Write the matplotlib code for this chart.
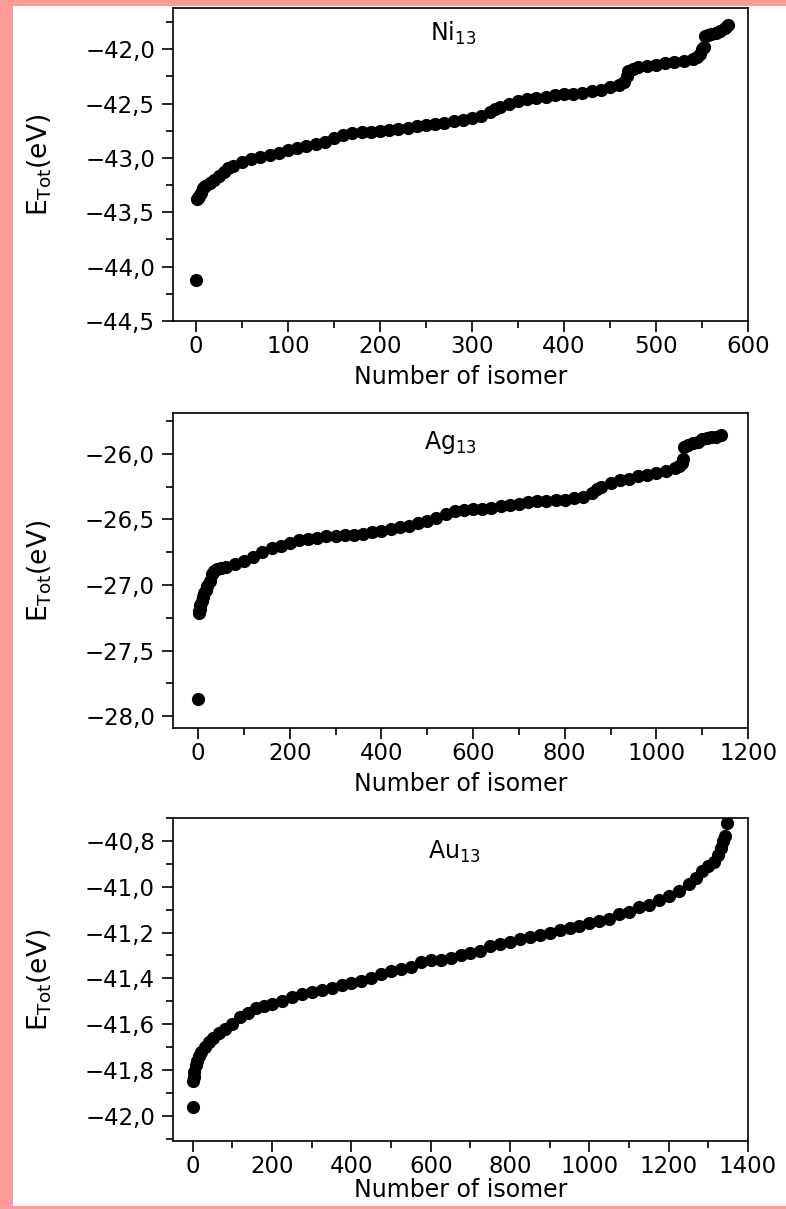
import matplotlib
matplotlib.use("Agg")
import matplotlib.pyplot as plt
from matplotlib.patches import Rectangle
from matplotlib.ticker import MultipleLocator, FuncFormatter

# ---------------- data ----------------
ni_n = [0, 1, 2, 3, 5, 8, 10, 15, 20, 25, 30, 35, 40, 50, 60, 70, 80, 90, 100,
        110, 120, 130, 140, 150, 160, 170, 180, 190, 200, 210, 220, 230, 240,
        250, 260, 270, 280, 290, 300, 310, 320, 325, 330, 340, 350, 360, 370,
        380, 390, 400, 410, 420, 430, 440, 450, 460, 465, 468, 470, 475, 480,
        490, 500, 510, 520, 530, 540, 545, 548, 550, 552, 553, 556, 560, 565,
        570, 575, 578]
ni_e = [-44.12, -43.38, -43.37, -43.35, -43.32, -43.28, -43.26, -43.23, -43.20,
        -43.17, -43.13, -43.09, -43.07, -43.04, -43.01, -42.99, -42.97, -42.95,
        -42.93, -42.91, -42.89, -42.87, -42.85, -42.82, -42.79, -42.77, -42.76,
        -42.76, -42.75, -42.74, -42.73, -42.72, -42.71, -42.70, -42.69, -42.68,
        -42.66, -42.65, -42.63, -42.61, -42.58, -42.55, -42.53, -42.50, -42.48,
        -42.46, -42.45, -42.44, -42.42, -42.41, -42.41, -42.40, -42.38, -42.37,
        -42.35, -42.33, -42.30, -42.25, -42.20, -42.18, -42.16, -42.15, -42.14,
        -42.13, -42.12, -42.11, -42.09, -42.07, -42.04, -42.00, -41.98, -41.88,
        -41.87, -41.86, -41.85, -41.83, -41.80, -41.78]

ag_n = [0, 1, 2, 3, 5, 8, 10, 13, 16, 20, 25, 30, 35, 40, 50, 60, 80, 100, 120,
        140, 160, 180, 200, 220, 240, 260, 280, 300, 320, 340, 360, 380, 400,
        420, 440, 460, 480, 500, 520, 540, 560, 580, 600, 620, 640, 660, 680,
        700, 720, 740, 760, 780, 800, 820, 840, 860, 870, 880, 900, 920, 940,
        960, 980, 1000, 1020, 1040, 1050, 1055, 1058, 1060, 1070, 1080, 1090,
        1100, 1110, 1120, 1130, 1140]
ag_e = [-27.87, -27.21, -27.20, -27.18, -27.15, -27.12, -27.09, -27.06, -27.04,
        -27.01, -26.97, -26.92, -26.89, -26.88, -26.87, -26.86, -26.84, -26.82,
        -26.79, -26.75, -26.72, -26.70, -26.68, -26.66, -26.65, -26.64, -26.63,
        -26.63, -26.62, -26.62, -26.61, -26.60, -26.59, -26.57, -26.56, -26.55,
        -26.53, -26.51, -26.49, -26.46, -26.44, -26.43, -26.42, -26.42, -26.41,
        -26.40, -26.39, -26.38, -26.37, -26.36, -26.36, -26.35, -26.35, -26.34,
        -26.33, -26.30, -26.27, -26.25, -26.22, -26.20, -26.19, -26.17, -26.16,
        -26.15, -26.13, -26.11, -26.09, -26.07, -26.04, -25.95, -25.93, -25.92,
        -25.91, -25.89, -25.88, -25.87, -25.87, -25.86]

au_n = [0, 1, 2, 4, 7, 10, 15, 20, 30, 40, 50, 65, 80, 100, 120, 140, 160, 180,
        200, 225, 250, 275, 300, 325, 350, 375, 400, 425, 450, 475, 500, 525,
        550, 575, 600, 625, 650, 675, 700, 725, 750, 775, 800, 825, 850, 875,
        900, 925, 950, 975, 1000, 1025, 1050, 1075, 1100, 1125, 1150, 1175,
        1200, 1225, 1250, 1270, 1285, 1300, 1315, 1325, 1332, 1338, 1342, 1346]
au_e = [-41.96, -41.85, -41.83, -41.81, -41.78, -41.76, -41.74, -41.72, -41.70,
        -41.68, -41.66, -41.64, -41.62, -41.60, -41.57, -41.55, -41.53, -41.52,
        -41.51, -41.50, -41.48, -41.47, -41.46, -41.45, -41.44, -41.43, -41.42,
        -41.41, -41.40, -41.38, -41.37, -41.36, -41.35, -41.33, -41.32, -41.32,
        -41.31, -41.30, -41.29, -41.28, -41.26, -41.25, -41.24, -41.23, -41.22,
        -41.21, -41.20, -41.19, -41.18, -41.17, -41.16, -41.15, -41.14, -41.12,
        -41.11, -41.09, -41.08, -41.06, -41.04, -41.02, -40.99, -40.96, -40.93,
        -40.91, -40.89, -40.86, -40.83, -40.80, -40.78, -40.72]

labels = ["Ni", "Ag", "Au"]
x_label = "Number of isomer"
y_label = r"$\mathregular{E_{Tot}(eV)}$"

# ---------------- figure ----------------
W, H = 786, 1209
fig = plt.figure(figsize=(W / 100, H / 100), dpi=100, facecolor="white")
plt.rcParams["font.family"] = ["DejaVu Sans"]

pink = "#ff9a9a"

def px_axes(left, right, top, bottom):
    return [left / W, (H - bottom) / H, (right - left) / W, (bottom - top) / H]

def fmt(v, pos):
    s = f"{v:.1f}".replace(".", ",")
    return s.replace("-", "\u2212")

panels = [
    dict(n=ni_n, e=ni_e, name=labels[0], rect=px_axes(173, 748, 8, 321),
         xlim=(-25, 600), ylim=(-44.5, -41.62), xmaj=100, xmin=50,
         ymaj=0.5, ymin=0.25, tpos=(0.487, 0.896), xl=44),
    dict(n=ag_n, e=ag_e, name=labels[1], rect=px_axes(173, 748, 413, 728),
         xlim=(-55, 1200), ylim=(-28.09, -25.69), xmaj=200, xmin=100,
         ymaj=0.5, ymin=0.25, tpos=(0.482, 0.886), xl=44),
    dict(n=au_n, e=au_e, name=labels[2], rect=px_axes(173, 748, 818, 1141),
         xlim=(-50, 1400), ylim=(-42.11, -40.70), xmaj=200, xmin=100,
         ymaj=0.2, ymin=0.1, tpos=(0.489, 0.874), xl=37),
]

for p in panels:
    ax = fig.add_axes(p["rect"])
    ax.plot(p["n"], p["e"], "o", color="black", ms=9.5, mec="black", mew=0)
    ax.set_xlim(*p["xlim"])
    ax.set_ylim(*p["ylim"])
    ax.xaxis.set_major_locator(MultipleLocator(p["xmaj"]))
    ax.xaxis.set_minor_locator(MultipleLocator(p["xmin"]))
    ax.yaxis.set_major_locator(MultipleLocator(p["ymaj"]))
    ax.yaxis.set_minor_locator(MultipleLocator(p["ymin"]))
    ax.yaxis.set_major_formatter(FuncFormatter(fmt))
    ax.tick_params(which="both", direction="out", top=False, right=False,
                   width=1.2, colors="black", labelsize=16.5)
    ax.tick_params(which="major", length=8)
    ax.tick_params(axis="x", which="major", pad=2)
    ax.tick_params(axis="y", which="major", pad=5)
    ax.tick_params(which="minor", length=5)
    for s in ax.spines.values():
        s.set_linewidth(1.2)
    ax.set_xlabel(x_label, fontsize=17)
    ax.set_ylabel(y_label, fontsize=19)
    hpx = p["rect"][3] * H
    ax.xaxis.set_label_coords(0.5, -p["xl"] / hpx)
    ax.yaxis.set_label_coords(-(173 - 54) / 575, 0.5)
    ax.text(p["tpos"][0], p["tpos"][1],
            r"$\mathregular{" + p["name"] + r"_{13}}$",
            transform=ax.transAxes, ha="center", va="baseline", fontsize=17)

# pink border
for (x0, y0, w, h) in [(0, 0, 13, H), (0, H - 6, W, 6), (0, 0, W, 3)]:
    fig.add_artist(Rectangle((x0 / W, y0 / H), w / W, h / H,
                             transform=fig.transFigure, facecolor=pink,
                             edgecolor="none", zorder=20))

fig.savefig("out.png", dpi=100, facecolor=fig.get_facecolor())
